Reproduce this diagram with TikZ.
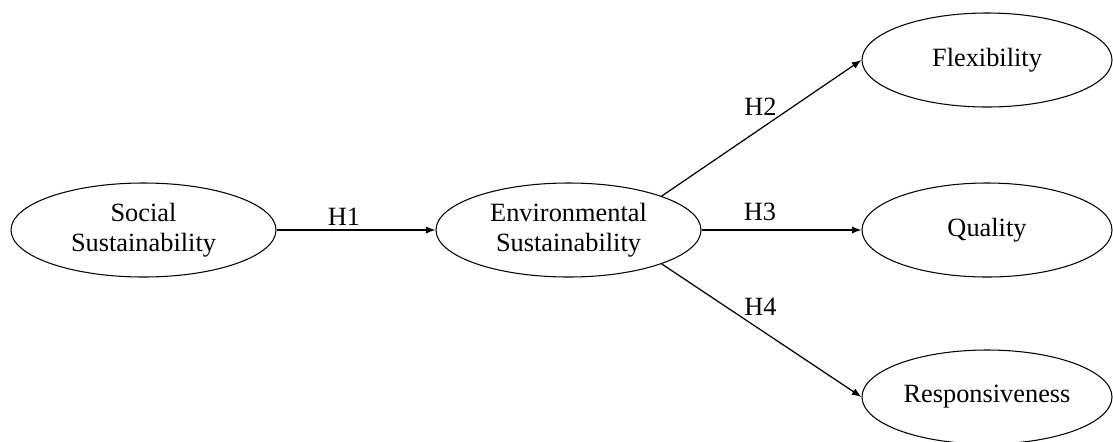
\documentclass[tikz,border=0pt]{standalone}
\usepackage{fontspec}
\setmainfont{Liberation Serif}
\usetikzlibrary{shapes.geometric,arrows.meta}

\begin{document}
\begin{tikzpicture}[
  construct/.style={ellipse,draw,line width=0.6pt,inner sep=0pt,
    minimum width=5.3cm,minimum height=1.88cm,align=center,
    font=\fontsize{15}{17}\selectfont},
  outcome/.style={construct,minimum width=5cm},
  link/.style={line width=0.7pt,-{Latex[length=5.5pt,width=4.2pt]}},
  hyp/.style={inner sep=0pt,font=\fontsize{15}{17}\selectfont}
]
\useasboundingbox (0,0) rectangle (22.26,-8.82);

% constructs
\node[construct] (social) at (2.87,-4.6) {Social\\Sustainability};
\node[construct] (env) at (11.37,-4.6) {Environmental\\Sustainability};

\node[outcome] (flex) at (19.74,-1.2) {Flexibility};
\node[outcome] (qual) at (19.74,-4.6) {Quality};
\node[outcome] (resp) at (19.74,-7.94) {Responsiveness};

% hypotheses
\draw[link] (social) -- (env);
\draw[link] (env.20.5) -- (flex.west);
\draw[link] (env) -- (qual);
\draw[link] (env.-20.5) -- (resp.west);

\node[hyp] (h1) at (6.88,-4.33) {H1};
\node[hyp] (h2) at (15.21,-2.13) {H2};
\node[hyp] (h3) at (15.2,-4.24) {H3};
\node[hyp] (h4) at (15.21,-6.13) {H4};

\end{tikzpicture}
\end{document}
